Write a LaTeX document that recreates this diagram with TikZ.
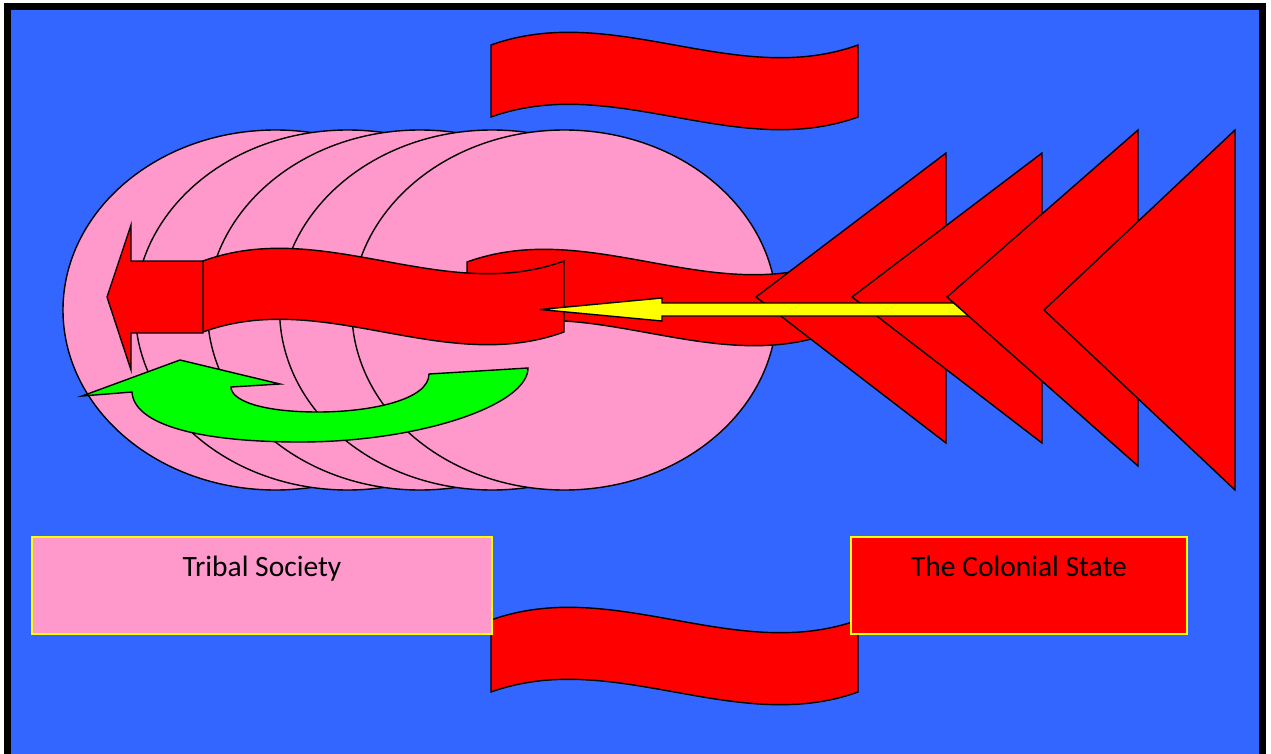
\documentclass[tikz,border=0pt]{standalone}
\usepackage{fontspec}
\setmainfont{Carlito}
\definecolor{bgblue}{HTML}{3366FF}
\definecolor{pinkfill}{HTML}{FF99CC}
\definecolor{redfill}{HTML}{FF0000}
\definecolor{greenfill}{HTML}{00FF00}
\definecolor{yellowfill}{HTML}{FFFF00}
\newcommand\wavedraw[5]{\draw[#5] (#1,#2) .. controls ({#1+#3/3},{#2-44}) and ({#1+2*#3/3},{#2+44}) .. ({#1+#3},#2) -- ({#1+#3},{#2+#4}) .. controls ({#1+2*#3/3},{#2+#4+44}) and ({#1+#3/3},{#2+#4-44}) .. (#1,{#2+#4}) -- cycle;}
\tikzset{
  outl/.style={draw=black, line width=1.4pt, line join=miter},
  pinkshape/.style={outl, fill=pinkfill},
  redshape/.style={outl, fill=redfill},
  greenshape/.style={outl, fill=greenfill},
  yellowshape/.style={outl, fill=yellowfill},
  labelbox/.style={draw=yellowfill, line width=1.8pt, minimum width=460pt, minimum height=97pt, inner sep=0pt},
  labeltext/.style={font=\fontsize{29.5}{35}\selectfont, text=black, anchor=base, inner sep=0pt}
}
\begin{document}
\begin{tikzpicture}[x=1pt,y=-1pt]
\useasboundingbox (0,0) rectangle (1271,754);
\clip (0,0) rectangle (1271,754);
\fill[white] (0,0) rectangle (1271,754);
% background and frame
\draw[line width=7pt, fill=bgblue] (7.5,6.5) rectangle (1262,780);
% ellipses
\foreach \k in {0,...,4}{
  \draw[pinkshape] ({275.5+72.2*\k},310) ellipse [x radius=212.5, y radius=180];
}
% top wave
\wavedraw{491}{45}{367}{72}{redshape}
% back ribbon
\wavedraw{467}{262}{364}{71}{redshape}
% front ribbon
\wavedraw{203}{261}{361}{71}{redshape}
% left block arrow
\draw[redshape] (107,297) -- (131,225) -- (131,261) -- (203,261) -- (203,333) -- (131,333) -- (131,370) -- cycle;
% green curved arrow
\draw[greenshape] (82,396) -- (180,360) -- (280,384) -- (231,387)
  .. controls (231,400) and (260,412) .. (318,412)
  .. controls (370,412) and (429,400) .. (429,374)
  -- (528,368)
  .. controls (528,405) and (420,442) .. (300,442)
  .. controls (200,442) and (134,425) .. (132,392)
  -- cycle;
% triangles and yellow arrow
\draw[redshape] (946,153) -- (946,443) -- (756,297) -- cycle;
\draw[redshape] (1042,153) -- (1042,443) -- (852,297) -- cycle;
\draw[yellowshape] (540,309.5) -- (662,298) -- (662,303) -- (975,303) -- (975,316) -- (662,316) -- (662,321) -- cycle;
\draw[redshape] (1138,130) -- (1138,466) -- (947,297) -- cycle;
\draw[redshape] (1235,130) -- (1235,490) -- (1044,310) -- cycle;
% bottom wave
\wavedraw{491}{620}{367}{72}{redshape}
% label boxes
\node[labelbox, fill=pinkfill] (tribal) at (262,585.5) {};
\node[labelbox, fill=redfill, minimum width=336pt] (colonial) at (1019,585.5) {};
\node[labeltext] (tribaltext) at (262,576) {Tribal Society};
\node[labeltext] (colonialtext) at (1019,576) {The Colonial State};
\end{tikzpicture}
\end{document}
